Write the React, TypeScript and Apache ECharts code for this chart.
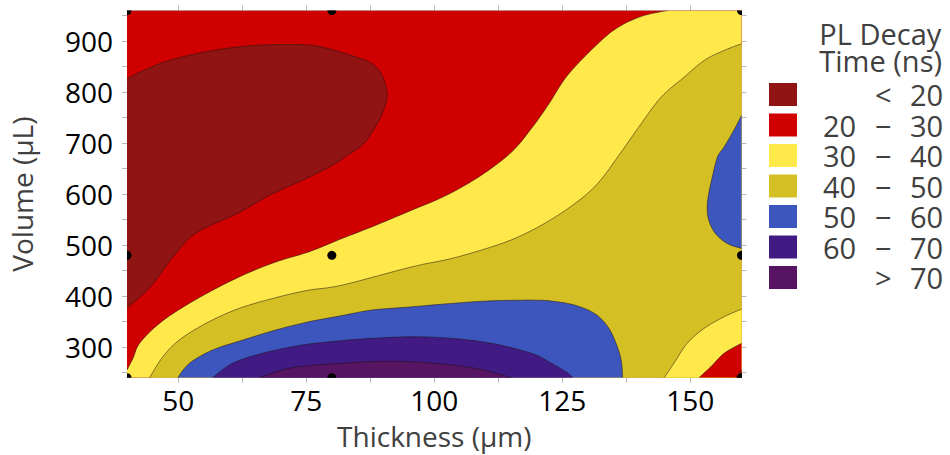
import React, { useEffect, useRef } from "react";
import * as echarts from "echarts";

// ---------- data ----------
const X_MIN = 40;
const X_MAX = 160;
const Y_MIN = 240;
const Y_MAX = 960;

const xLabelValues = [50, 75, 100, 125, 150];
const xTickValues = [50, 62.5, 75, 87.5, 100, 112.5, 125, 137.5, 150];
const yLabelValues = [300, 400, 500, 600, 700, 800, 900];
const yTickValues = [250, 300, 350, 400, 450, 500, 550, 600, 650, 700, 750, 800, 850, 900, 950];

const levelNames = ["< 20", "20 − 30", "30 − 40", "40 − 50", "50 − 60", "60 − 70", "> 70"];
const levelColors = ["#911414", "#D00000", "#FFE94A", "#D4C024", "#3C56BE", "#421A84", "#561463"];

// measured sample points (thickness µm, volume µL)
const sampleX = [40, 80, 160, 40, 80, 160, 40, 80, 160];
const sampleY = [960, 960, 960, 480, 480, 480, 240, 240, 240];

// contour boundaries (thickness, volume)
const baseCorners = [[40, 240], [160, 240], [160, 960], [40, 960]];

const under20Curve = [
  [40, 826.8], [47, 858], [54.8, 877.8], [62.6, 889.5], [70.3, 893.4], [76.2, 891.5],
  [80.1, 883], [84.9, 868], [87.8, 856], [89.8, 832.7], [90.8, 797.5], [90.4, 774],
  [89.4, 748.5], [87.8, 721], [85.9, 695.7], [83, 676], [80.1, 656.5], [74.2, 627],
  [67.8, 597.8], [61.6, 562.5], [53.4, 523.3], [48.9, 476], [44.5, 417.6], [40, 376.5],
];

const level30Curve = [
  [40, 255], [41.2, 278.6], [42.5, 308], [46.4, 347], [52.2, 386], [60.6, 431.3],
  [68.4, 464.6], [75.5, 486.7], [82, 513], [87.8, 535.7], [95.6, 568.4], [102.4, 597.7],
  [109.2, 637], [115.1, 682.5], [119, 729], [122.2, 774], [126.2, 835],
  [132.6, 901], [136.5, 930.6], [140.9, 950], [145.6, 960],
];
const level30Closure = [[160, 960], [160, 240], [40, 240]];

const level40Curve = [
  [44.4, 240], [47, 281], [50.2, 313.8], [55.4, 346.5], [61.9, 375.9], [69.7, 398.6],
  [75.5, 411.7], [82, 421.5], [95.6, 457.3], [103.4, 473.8], [111.2, 496.5], [116.4, 516],
  [121.5, 542.3], [127, 578], [131.9, 620.6], [136.5, 682.5], [140.4, 738],
  [144.3, 790], [148.8, 829.4], [152.7, 862], [156.6, 881.7], [160, 894.8],
];
const level40Closure = [[160, 240]];

const level50BottomCurve = [
  [49.9, 240], [52.2, 268.2], [56.7, 294.2], [62.6, 313.8], [69, 333.4], [75.5, 349.7],
  [82, 361.8], [87.8, 372.6], [95.6, 379], [103.4, 385.7], [111.2, 390.8], [119, 392.1],
  [122.9, 390.2], [127.4, 382.4], [131.3, 366], [133.9, 339.9], [135.5, 307.4],
  [136.5, 274.7], [136.8, 240],
];

const level50RightCurve = [
  [160, 754.4], [158.5, 725], [156.6, 692.3], [155.3, 672.7], [154.3, 633.6], [153.6, 601],
  [153.3, 574.8], [153.6, 548.8], [154.9, 522.8], [157.2, 503.2], [160, 493.4],
];

const level60Curve = [
  [56.7, 240], [60.6, 268.2], [66.4, 287.8], [74.2, 304], [82, 312.8], [87.8, 317.1],
  [95.6, 320.3], [103.4, 317.1], [111.2, 307.4], [119, 287.8], [122.9, 268.2],
  [125.8, 251], [127.1, 240],
];

const level70Curve = [
  [65.8, 240], [71.6, 258.4], [78.1, 265.8], [82, 268.2], [87.8, 271.7], [95.6, 271.3],
  [103.4, 264.9], [109.2, 256], [115.1, 240],
];

const cornerYellowCurve = [
  [144.9, 240], [146.8, 268.2], [149.4, 307.4], [152.7, 336.7], [156.6, 359.4], [160, 374.5],
];
const cornerRedCurve = [[151.7, 240], [154, 261.5], [156.6, 287.8], [160, 307.4]];
const cornerDarkCurve = [[158.9, 240], [160, 255]];
const cornerClosure = [[160, 240]];

// ---------- chart ----------
const FONT = "'Open Sans', 'Noto Sans', sans-serif";
const AXIS_GRAY = "#b8b8b8";

type Pt = number[];

// Catmull-Rom rendering of a pixel-space contour line (drawing only, like `smooth`)
function smoothLine(pts: Pt[]): Pt[] {
  if (pts.length < 3) return pts;
  const out: Pt[] = [];
  const steps = 8;
  for (let i = 0; i < pts.length - 1; i++) {
    const p0 = pts[i - 1] || pts[i];
    const p1 = pts[i];
    const p2 = pts[i + 1];
    const p3 = pts[i + 2] || pts[i + 1];
    for (let s = 0; s < steps; s++) {
      const t = s / steps;
      const t2 = t * t;
      const t3 = t2 * t;
      const f = (a: number, b: number, c: number, d: number) =>
        0.5 * (2 * b + (-a + c) * t + (2 * a - 5 * b + 4 * c - d) * t2 + (-a + 3 * b - 3 * c + d) * t3);
      out.push([f(p0[0], p1[0], p2[0], p3[0]), f(p0[1], p1[1], p2[1], p3[1])]);
    }
  }
  out.push(pts[pts.length - 1]);
  return out;
}

function layer(name: string, color: string, curve: Pt[], closure: Pt[]) {
  return {
    type: "custom",
    name,
    coordinateSystem: "cartesian2d",
    xAxisIndex: 0,
    yAxisIndex: 0,
    silent: true,
    clip: true,
    itemStyle: { color },
    data: [[X_MIN, Y_MIN]],
    renderItem: (_params: any, api: any) => {
      const curvePts = smoothLine(curve.map((p) => api.coord(p)));
      const fillPts = curvePts.concat(closure.map((p) => api.coord(p)));
      const children: any[] = [
        { type: "polygon", shape: { points: fillPts }, style: { fill: color, stroke: "none" } },
      ];
      if (curvePts.length > 1) {
        children.push({
          type: "polyline",
          shape: { points: curvePts },
          style: { stroke: "rgba(30,20,20,0.75)", lineWidth: 0.7, fill: "none" },
        });
      }
      return { type: "group", children };
    },
  };
}

function legendFormatter(name: string) {
  const p = name.split(" ");
  if (p.length === 3) return `{p| }{a|${p[0]}}{b|${p[1]}}{c|${p[2]}}`;
  return `{p| }{a| }{b|${p[0]}}{c|${p[1]}}`;
}

export default function App() {
  const ref = useRef<HTMLDivElement>(null);

  useEffect(() => {
    if (!ref.current) return;
    const chart = echarts.init(ref.current, undefined, { renderer: "svg" });

    const labelStyle = { color: "#000", fontSize: 28, fontFamily: FONT };
    const nameStyle = { color: "#404040", fontSize: 28, fontFamily: FONT };
    const richCell = { fontSize: 29, fontFamily: FONT, color: "#404040", lineHeight: 23, align: "left" };

    const option: any = {
      animation: false,
      backgroundColor: "#fff",
      grid: { left: 124, right: 208.5, top: 10.5, bottom: 77.3, containLabel: false },
      legend: {
        data: levelNames.map((n) => ({ name: n, icon: "rect" })),
        orient: "vertical",
        left: 769,
        top: 80,
        padding: 0,
        itemWidth: 28,
        itemHeight: 23,
        itemGap: 1.5,
        selectedMode: false,
        formatter: legendFormatter,
        textStyle: {
          ...richCell,
          rich: {
            p: { ...richCell, width: 21 },
            a: { ...richCell, width: 52 },
            b: { ...richCell, width: 35 },
            c: { ...richCell, width: 33 },
          },
        },
      },
      graphic: [
        {
          type: "text",
          right: 8,
          top: 19,
          style: {
            text: "PL Decay\nTime (ns)",
            align: "right",
            fill: "#404040",
            font: `29px ${FONT}`,
            lineHeight: 27,
          },
        },
      ],
      xAxis: [
        {
          type: "value",
          min: X_MIN,
          max: X_MAX,
          position: "bottom",
          name: "Thickness (µm)",
          nameLocation: "middle",
          nameGap: 44,
          nameTextStyle: nameStyle,
          axisLine: { show: true, lineStyle: { color: AXIS_GRAY, width: 1 } },
          axisTick: { show: true, length: 5, customValues: xTickValues, lineStyle: { color: AXIS_GRAY } },
          axisLabel: { ...labelStyle, margin: 8, customValues: xLabelValues },
          splitLine: { show: false },
        },
        {
          type: "value",
          min: X_MIN,
          max: X_MAX,
          position: "top",
          axisLine: { show: true, lineStyle: { color: AXIS_GRAY, width: 1 } },
          axisTick: { show: true, length: 5, customValues: xTickValues, lineStyle: { color: AXIS_GRAY } },
          axisLabel: { show: false },
          splitLine: { show: false },
        },
      ],
      yAxis: [
        {
          type: "value",
          min: Y_MIN,
          max: Y_MAX,
          position: "left",
          name: "Volume (µL)",
          nameLocation: "middle",
          nameGap: 91,
          nameTextStyle: nameStyle,
          axisLine: { show: true, lineStyle: { color: AXIS_GRAY, width: 1 } },
          axisTick: { show: true, length: 5, customValues: yTickValues, lineStyle: { color: AXIS_GRAY } },
          axisLabel: { ...labelStyle, margin: 14, customValues: yLabelValues },
          splitLine: { show: false },
        },
        {
          type: "value",
          min: Y_MIN,
          max: Y_MAX,
          position: "right",
          axisLine: { show: true, lineStyle: { color: AXIS_GRAY, width: 1 } },
          axisTick: { show: true, length: 5, customValues: yTickValues, lineStyle: { color: AXIS_GRAY } },
          axisLabel: { show: false },
          splitLine: { show: false },
        },
      ],
      series: [
        layer(levelNames[1], levelColors[1], [], baseCorners),
        layer(levelNames[0], levelColors[0], under20Curve, []),
        layer(levelNames[2], levelColors[2], level30Curve, level30Closure),
        layer(levelNames[3], levelColors[3], level40Curve, level40Closure),
        layer(levelNames[4], levelColors[4], level50BottomCurve, []),
        layer(levelNames[4], levelColors[4], level50RightCurve, []),
        layer(levelNames[5], levelColors[5], level60Curve, []),
        layer(levelNames[6], levelColors[6], level70Curve, []),
        layer(levelNames[2], levelColors[2], cornerYellowCurve, cornerClosure),
        layer(levelNames[1], levelColors[1], cornerRedCurve, cornerClosure),
        layer(levelNames[0], levelColors[0], cornerDarkCurve, cornerClosure),
        {
          type: "custom",
          name: "samples",
          coordinateSystem: "cartesian2d",
          xAxisIndex: 0,
          yAxisIndex: 0,
          silent: true,
          clip: true,
          z: 5,
          data: sampleX.map((x, i) => [x, sampleY[i]]),
          renderItem: (_params: any, api: any) => {
            const c = api.coord([api.value(0), api.value(1)]);
            return { type: "circle", shape: { cx: c[0], cy: c[1], r: 4.5 }, style: { fill: "#000" } };
          },
        },
      ],
    };

    chart.setOption(option);
    return () => chart.dispose();
  }, []);

  return (
    <div
      ref={ref}
      style={{ position: "absolute", left: 0, top: 0, width: 950, height: 455 }}
    />
  );
}
